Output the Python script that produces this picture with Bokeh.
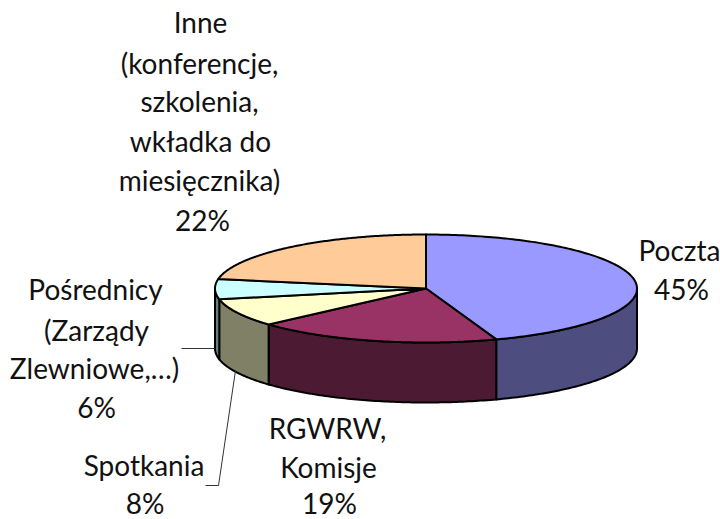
import numpy as np
from bokeh.plotting import figure
from bokeh.models import Range1d
from bokeh.core.properties import value
from bokeh.embed import file_html
from bokeh.resources import INLINE

# data
categories = ["Poczta", "RGWRW, Komisje", "Spotkania",
              "Pośrednicy (Zarządy Zlewniowe,…)",
              "Inne (konferencje, szkolenia, wkładka do miesięcznika)"]
shares = [44.6, 18.8, 8.4, 6.0, 22.2]
top_colors = ["#9999FF", "#993366", "#FFFFCC", "#CCFFFF", "#FFCC99"]
side_colors = ["#4D4D80", "#4D1A33", "#808066", "#668080", "#806650"]

# layout (screen pixels)
CX, CY, RX, RY, DEPTH = 425.5, 288.0, 211.0, 54.0, 60.0
FONT = "Lato"
SIZE = "28px"
label_lines = [
    (["Poczta"], [679], [249.5]),
    (["RGWRW,", "Komisje"], [327, 328], [427.5, 466]),
    (["Spotkania"], [143.5], [464]),
    (["Pośrednicy", "(Zarządy", "Zlewniowe,…)"], [95, 96, 94], [288.5, 329, 367.5]),
    (["Inne", "(konferencje,", "szkolenia,", "wkładka do", "miesięcznika)"],
     [200, 199, 199, 200, 199], [21.5, 62, 100.5, 140, 179.5]),
]
pct_pos = [(681, 288.5), (329, 502), (144.5, 502), (96, 406.5), (202, 219)]

p = figure(width=720, height=519, output_backend="svg", toolbar_location=None,
           x_range=Range1d(0, 720), y_range=Range1d(519, 0),
           min_border=0, outline_line_color=None, background_fill_color="white",
           border_fill_color="white")
p.axis.visible = False
p.grid.visible = False


def ex(t):
    return CX + RX * np.sin(t)


def ey(t):
    return CY - RY * np.cos(t)


edges = np.radians(np.concatenate([[0], np.cumsum(shares)]) * 3.6)

# side walls (only the front half of the rim is visible)
for i in range(len(shares)):
    a, b = max(edges[i], np.pi / 2), min(edges[i + 1], 1.5 * np.pi)
    if b <= a:
        continue
    t = np.linspace(a, b, 80)
    xs = np.concatenate([ex(t), ex(t[::-1])])
    ys = np.concatenate([ey(t), ey(t[::-1]) + DEPTH])
    p.patch(xs, ys, fill_color=side_colors[i], line_color="black", line_width=2,
            line_join="round")

# top faces
for i in range(len(shares)):
    t = np.linspace(edges[i], edges[i + 1], 160)
    xs = np.concatenate([[CX], ex(t)])
    ys = np.concatenate([[CY], ey(t)])
    p.patch(xs, ys, fill_color=top_colors[i], line_color="black", line_width=2,
            line_join="round")

# leader lines
p.line([181, 214], [348, 348], line_color="#333333", line_width=1)
p.line([235, 218, 205], [370, 485, 485], line_color="#333333", line_width=1)

# labels
for (lines, xs, ys), s, (px, py) in zip(label_lines, shares, pct_pos):
    txt = list(lines) + [f"{round(s)}%"]
    p.text(list(xs) + [px], list(ys) + [py], text=txt,
           text_font=value(FONT), text_font_size=value(SIZE),
           text_color="#111111", text_align="center", text_baseline="middle")

open("out.html", "w").write(file_html(p, INLINE))
